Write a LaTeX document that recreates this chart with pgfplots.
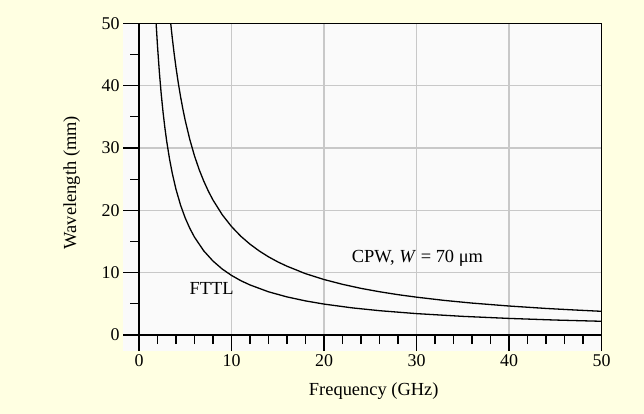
\documentclass[border=0pt]{standalone}
\usepackage{pgfplots}
\pgfplotsset{compat=1.18}
\usepackage{fontspec}
\setmainfont{Liberation Serif}
\definecolor{bgyellow}{RGB}{255,255,226}
\definecolor{plotwhite}{RGB}{250,250,250}
\definecolor{gridgray}{RGB}{200,200,200}
\begin{document}
\begin{tikzpicture}
\fill[bgyellow] (0bp,0bp) rectangle (644bp,414bp);
\fill[plotwhite] (123bp,63bp) rectangle (601.5bp,390.7bp);
\begin{axis}[
  at={(139bp,79bp)}, anchor=south west,
  scale only axis, width=462.5bp, height=311.7bp,
  xmin=0, xmax=50, ymin=0, ymax=50,
  xtick={0,10,...,50}, ytick={0,10,...,50},
  minor x tick num=4, minor y tick num=1,
  tick align=outside, xtick pos=bottom, ytick pos=left,
  major tick length=16bp, minor tick length=9bp,
  grid=major, major grid style={gridgray, line width=1.3bp},
  axis line style={line width=1.2bp, black},
  every tick/.style={black, line width=1.2bp},
  tick label style={font=\fontsize{18}{20}\selectfont},
  /pgf/number format/assume math mode=true,
  xlabel={Frequency (GHz)}, ylabel={Wavelength (mm)},
  label style={font=\fontsize{18.5}{21}\selectfont},
  xlabel style={at={(axis description cs:0.5075,-0.1797)}, anchor=center},
  ylabel style={at={(axis description cs:-0.1453,0.489)}, anchor=center},
]
% CPW, W = 70 um
\addplot[black, line width=1.3bp] coordinates {
(3.43,49.96) (3.6,47.62) (3.8,45.14) (4,42.9) (4.25,40.4) (4.5,38.18)
(4.75,36.19) (5,34.4) (5.5,31.31) (6,28.73) (6.5,26.55) (7,24.69)
(7.5,23.07) (8,21.65) (9,19.29) (10,17.4) (11,15.85) (12,14.57)
(13,13.48) (14,12.54) (15,11.73) (16,11.03) (18,9.84) (20,8.9)
(22,8.13) (24,7.48) (26,6.94) (28,6.47) (30,6.07) (33,5.55)
(36,5.12) (40,4.65) (44,4.26) (47,4.02) (50,3.8)
};
% FTTL
\addplot[black, line width=1.3bp] coordinates {
(1.85,50.0) (2,46.36) (2.2,42.18) (2.4,38.69) (2.6,35.74) (2.8,33.22)
(3,31.03) (3.3,28.24) (3.6,25.92) (4,23.36) (4.5,20.8) (5,18.76)
(5.5,17.09) (6,15.69) (7,13.5) (8,11.86) (9,10.58) (10,9.56)
(11,8.72) (12,8.03) (14,6.93) (16,6.11) (18,5.47) (20,4.96)
(23,4.36) (26,3.9) (30,3.43) (35,2.99) (40,2.66) (45,2.4) (50,2.2)
};
\node[font=\fontsize{18.5}{21}\selectfont] at (axis cs:7.84,7.46) {FTTL};
\node[font=\fontsize{18.5}{21}\selectfont, anchor=base west, inner sep=0pt] at (axis cs:23,11.55) {CPW, \textit{W} = 70 μm};
\end{axis}
\end{tikzpicture}
\end{document}
